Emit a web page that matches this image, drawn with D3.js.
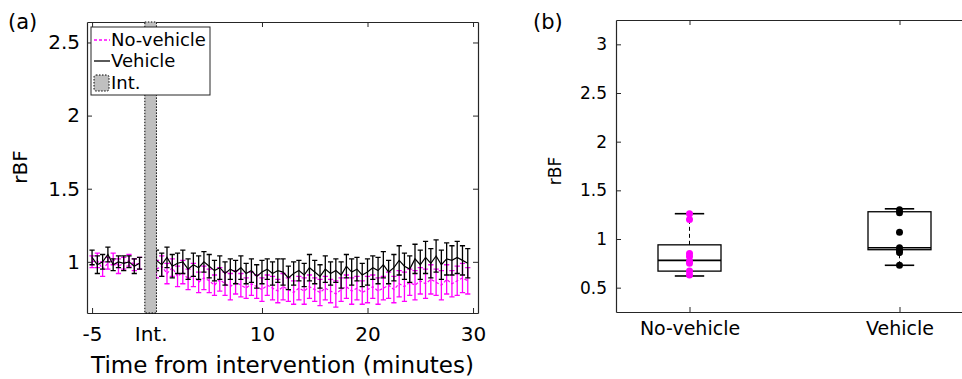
<!DOCTYPE html>
<html>
<head>
<meta charset="utf-8">
<script src="https://cdn.jsdelivr.net/npm/d3@7"></script>
<style>
  body { margin: 0; background: #fff; }
  svg { display: block; font-family: "DejaVu Sans", sans-serif; }
  .axis path, .axis line { stroke: #262626; }
  .axis text { fill: #000; font-family: "DejaVu Sans", sans-serif; }
</style>
</head>
<body>
<div id="chart"></div>
<script>
// ---- panel (a): time course ----
const intDuration = 1.1; // minutes the intervention occupies on the axis
const timePre = [-5, -4.5, -4, -3.5, -3, -2.5, -2, -1.5, -1, -0.5];
const timePost = [0, 0.5, 1, 1.5, 2, 2.5, 3, 3.5, 4, 4.5,
  5, 5.5, 6, 6.5, 7, 7.5, 8, 8.5, 9, 9.5,
  10, 10.5, 11, 11.5, 12, 12.5, 13, 13.5, 14, 14.5,
  15, 15.5, 16, 16.5, 17, 17.5, 18, 18.5, 19, 19.5,
  20, 20.5, 21, 21.5, 22, 22.5, 23, 23.5, 24, 24.5,
  25, 25.5, 26, 26.5, 27, 27.5, 28, 28.5, 29, 29.5];

const vehiclePre = [1.03, 0.98, 1.00, 1.05, 0.98, 1.00, 0.99, 1.00, 0.97, 0.99];
const vehiclePreErr = [0.05, 0.06, 0.05, 0.05, 0.04, 0.04, 0.05, 0.04, 0.05, 0.04];
const noVehiclePre = [1.00, 1.01, 0.95, 0.99, 1.02, 0.97, 0.99, 1.01, 0.98, 0.99];
const noVehiclePreErr = [0.04, 0.05, 0.05, 0.04, 0.04, 0.05, 0.04, 0.04, 0.04, 0.04];

const vehiclePost = [1.01, 0.98, 1.03, 0.97, 0.99, 1.00, 0.95, 0.98, 0.96, 1.00,
  0.97, 0.94, 0.96, 0.92, 0.95, 0.93, 0.96, 0.92, 0.94, 0.90,
  0.93, 0.95, 0.92, 0.94, 0.93, 0.89, 0.92, 0.94, 0.91, 0.96,
  0.93, 0.90, 0.95, 0.92, 0.94, 0.91, 0.97, 0.93, 0.95, 0.91,
  0.93, 0.96, 0.94, 0.98, 0.93, 0.96, 1.01, 0.97, 0.95, 1.02,
  0.98, 1.03, 0.99, 1.04, 0.98, 1.02, 1.01, 1.03, 1.01, 0.99];
const vehiclePostErr = [0.07, 0.08, 0.07, 0.08, 0.07, 0.08, 0.07, 0.08, 0.08, 0.07,
  0.08, 0.07, 0.08, 0.08, 0.07, 0.08, 0.08, 0.07, 0.08, 0.08,
  0.08, 0.07, 0.08, 0.08, 0.09, 0.08, 0.08, 0.07, 0.08, 0.09,
  0.08, 0.08, 0.09, 0.08, 0.08, 0.09, 0.08, 0.09, 0.08, 0.08,
  0.09, 0.08, 0.09, 0.09, 0.08, 0.09, 0.10, 0.09, 0.09, 0.10,
  0.10, 0.11, 0.10, 0.11, 0.10, 0.11, 0.10, 0.11, 0.10, 0.10];
const noVehiclePost = [0.95, 0.97, 0.92, 0.96, 0.90, 0.93, 0.88, 0.91, 0.86, 0.89,
  0.87, 0.84, 0.88, 0.85, 0.83, 0.86, 0.84, 0.82, 0.85, 0.83,
  0.81, 0.84, 0.82, 0.80, 0.83, 0.81, 0.79, 0.82, 0.80, 0.83,
  0.81, 0.79, 0.82, 0.80, 0.78, 0.81, 0.83, 0.80, 0.82, 0.79,
  0.81, 0.83, 0.80, 0.82, 0.84, 0.81, 0.85, 0.83, 0.86, 0.84,
  0.87, 0.85, 0.88, 0.86, 0.84, 0.88, 0.85, 0.87, 0.89, 0.87];
const noVehiclePostErr = [0.06, 0.07, 0.07, 0.06, 0.07, 0.08, 0.07, 0.08, 0.07, 0.08,
  0.08, 0.07, 0.08, 0.08, 0.09, 0.08, 0.08, 0.07, 0.08, 0.08,
  0.08, 0.07, 0.08, 0.08, 0.09, 0.08, 0.08, 0.08, 0.09, 0.08,
  0.08, 0.09, 0.08, 0.08, 0.09, 0.08, 0.08, 0.09, 0.08, 0.08,
  0.09, 0.08, 0.09, 0.08, 0.09, 0.09, 0.09, 0.10, 0.09, 0.10,
  0.09, 0.10, 0.10, 0.09, 0.10, 0.10, 0.09, 0.10, 0.10, 0.09];

const xTickValues = [-5, 0.55, 11.1, 21.1, 31.1];
const xTickLabels = ["-5", "Int.", "10", "20", "30"];
const yTicksA = [1, 1.5, 2, 2.5];

// ---- panel (b): box plot ----
const groups = ["No-vehicle", "Vehicle"];
const boxQ1 = [0.67, 0.89];
const boxMedian = [0.78, 0.91];
const boxQ3 = [0.94, 1.28];
const whiskerLow = [0.62, 0.73];
const whiskerHigh = [1.26, 1.31];
const noVehiclePoints = [1.26, 1.20, 0.85, 0.82, 0.77, 0.75, 0.67, 0.63];
const vehiclePoints = [1.30, 1.27, 1.07, 0.91, 0.88, 0.86, 0.73];
const yTicksB = [0.5, 1, 1.5, 2, 2.5, 3];

const MAGENTA = "#ff00ff";
const FONT = "DejaVu Sans, sans-serif";

const svg = d3.select("#chart").append("svg")
  .attr("width", 962)
  .attr("height", 379);

// ================= panel (a) =================
const a = { left: 87, right: 478, top: 22, bottom: 313 };
const xA = d3.scaleLinear().domain([-5.48, 31.57]).range([a.left, a.right]);
const yA = d3.scaleLinear().domain([0.65, 2.64]).range([a.bottom, a.top]);
const axisPos = t => xA(t < 0 ? t : t + intDuration);

function seriesRows(times, vals, errs) {
  return times.map((t, i) => ({ t: t, v: vals[i], e: errs[i] }));
}
const series = [
  { color: MAGENTA, dash: "3,2", segs: [seriesRows(timePre, noVehiclePre, noVehiclePreErr), seriesRows(timePost, noVehiclePost, noVehiclePostErr)] },
  { color: "#000", dash: null, segs: [seriesRows(timePre, vehiclePre, vehiclePreErr), seriesRows(timePost, vehiclePost, vehiclePostErr)] }
];

const gA = svg.append("g");

gA.append("g")
  .attr("class", "axis")
  .attr("transform", `translate(0,${a.bottom})`)
  .call(d3.axisBottom(xA).tickValues(xTickValues).tickFormat((d, i) => xTickLabels[i])
    .tickSizeInner(-5).tickSizeOuter(0).tickPadding(14))
  .attr("font-family", FONT).attr("font-size", 20);
gA.append("g")
  .attr("class", "axis")
  .attr("transform", `translate(0,${a.top})`)
  .call(d3.axisTop(xA).tickValues(xTickValues).tickFormat("").tickSizeInner(-5).tickSizeOuter(0));
gA.append("g")
  .attr("class", "axis")
  .attr("transform", `translate(${a.left},0)`)
  .call(d3.axisLeft(yA).tickValues(yTicksA).tickFormat(d3.format("~g"))
    .tickSizeInner(-5).tickSizeOuter(0).tickPadding(7))
  .attr("font-family", FONT).attr("font-size", 20);
gA.append("g")
  .attr("class", "axis")
  .attr("transform", `translate(${a.right},0)`)
  .call(d3.axisRight(yA).tickValues(yTicksA).tickFormat("").tickSizeInner(-5).tickSizeOuter(0));
gA.selectAll(".axis path").attr("stroke-width", 1.2);

const line = d3.line().x(d => axisPos(d.t)).y(d => yA(d.v));
const capW = 2.6;

series.forEach(s => {
  const g = gA.append("g");
  s.segs.forEach(rows => {
    g.append("path")
      .attr("d", line(rows))
      .attr("fill", "none")
      .attr("stroke", s.color)
      .attr("stroke-width", 1.2)
      .attr("stroke-dasharray", s.dash);
    g.selectAll(null).data(rows).enter().append("path")
      .attr("fill", "none")
      .attr("stroke", s.color)
      .attr("stroke-width", 1.3)
      .attr("d", d => {
        const x = axisPos(d.t), y0 = yA(d.v - d.e), y1 = yA(d.v + d.e);
        return `M${x},${y0}V${y1}M${x - capW},${y0}H${x + capW}M${x - capW},${y1}H${x + capW}`;
      });
  });
});

// intervention band
gA.append("rect")
  .attr("x", xA(0))
  .attr("y", a.top)
  .attr("width", xA(intDuration) - xA(0))
  .attr("height", a.bottom - a.top)
  .attr("fill", "#bfbfbf")
  .attr("stroke", "#000")
  .attr("stroke-width", 1)
  .attr("stroke-dasharray", "1.5,1.5");

// legend
const leg = gA.append("g").attr("transform", "translate(91,27)");
leg.append("rect").attr("width", 119).attr("height", 68)
  .attr("fill", "#fff").attr("stroke", "#262626").attr("stroke-width", 1);
const legItems = [
  { label: "No-vehicle", y: 13, kind: "line", color: MAGENTA, dash: "3,2" },
  { label: "Vehicle", y: 34, kind: "line", color: "#000", dash: null },
  { label: "Int.", y: 56, kind: "patch" }
];
legItems.forEach(it => {
  if (it.kind === "line") {
    leg.append("line").attr("x1", 3).attr("x2", 19).attr("y1", it.y).attr("y2", it.y)
      .attr("stroke", it.color).attr("stroke-width", 1.3).attr("stroke-dasharray", it.dash);
  } else {
    leg.append("rect").attr("x", 3).attr("y", it.y - 8).attr("width", 15).attr("height", 16)
      .attr("rx", 2).attr("fill", "#bfbfbf").attr("stroke", "#000").attr("stroke-dasharray", "1.5,1.5");
  }
  leg.append("text").attr("x", 20).attr("y", it.y).attr("dy", "0.36em")
    .style("font-size", "18px").text(it.label);
});

gA.append("text")
  .attr("x", (a.left + a.right) / 2).attr("y", 373)
  .attr("text-anchor", "middle").style("font-size", "23px")
  .text("Time from intervention (minutes)");
gA.append("text")
  .attr("transform", "translate(27,167) rotate(-90)")
  .attr("text-anchor", "middle").style("font-size", "20px")
  .text("rBF");
gA.append("text").attr("x", 8).attr("y", 29).style("font-size", "21px").text("(a)");

// ================= panel (b) =================
const b = { left: 616, right: 973, top: 20, bottom: 312 };
const xB = d3.scaleLinear().domain([0.65, 2.35]).range([b.left, b.right]);
const yB = d3.scaleLinear().domain([0.25, 3.25]).range([b.bottom, b.top]);
const gB = svg.append("g");

gB.append("g")
  .attr("class", "axis")
  .attr("transform", `translate(0,${b.bottom})`)
  .call(d3.axisBottom(xB).tickValues([1, 2]).tickFormat((d, i) => groups[i])
    .tickSizeInner(-5).tickSizeOuter(0).tickPadding(10))
  .attr("font-family", FONT).attr("font-size", 19);
gB.append("g")
  .attr("class", "axis")
  .attr("transform", `translate(0,${b.top})`)
  .call(d3.axisTop(xB).tickValues([1, 2]).tickFormat("").tickSizeInner(-5).tickSizeOuter(0));
gB.append("g")
  .attr("class", "axis")
  .attr("transform", `translate(${b.left},0)`)
  .call(d3.axisLeft(yB).tickValues(yTicksB).tickFormat(d3.format("~g"))
    .tickSizeInner(-5).tickSizeOuter(0).tickPadding(9))
  .attr("font-family", FONT).attr("font-size", 17);
gB.selectAll(".axis path").attr("stroke-width", 1.2);

const boxHalf = 0.15, capHalf = 0.07;
groups.forEach((name, i) => {
  const c = i + 1;
  const g = gB.append("g");
  // whiskers
  g.append("line").attr("x1", xB(c)).attr("x2", xB(c))
    .attr("y1", yB(boxQ3[i])).attr("y2", yB(whiskerHigh[i]))
    .attr("stroke", "#000").attr("stroke-dasharray", "4,3");
  g.append("line").attr("x1", xB(c)).attr("x2", xB(c))
    .attr("y1", yB(whiskerLow[i])).attr("y2", yB(boxQ1[i]))
    .attr("stroke", "#000").attr("stroke-dasharray", "4,3");
  [whiskerLow[i], whiskerHigh[i]].forEach(v => {
    g.append("line").attr("x1", xB(c - capHalf)).attr("x2", xB(c + capHalf))
      .attr("y1", yB(v)).attr("y2", yB(v)).attr("stroke", "#000").attr("stroke-width", 1.6);
  });
  g.append("rect")
    .attr("x", xB(c - boxHalf)).attr("y", yB(boxQ3[i]))
    .attr("width", xB(c + boxHalf) - xB(c - boxHalf))
    .attr("height", yB(boxQ1[i]) - yB(boxQ3[i]))
    .attr("fill", "none").attr("stroke", "#000").attr("stroke-width", 1.3);
  g.append("line").attr("x1", xB(c - boxHalf)).attr("x2", xB(c + boxHalf))
    .attr("y1", yB(boxMedian[i])).attr("y2", yB(boxMedian[i]))
    .attr("stroke", "#000").attr("stroke-width", 1.6);
});

gB.selectAll(".pt-nv").data(noVehiclePoints).enter().append("circle")
  .attr("cx", xB(1)).attr("cy", d => yB(d)).attr("r", 3.5).attr("fill", MAGENTA);
gB.selectAll(".pt-v").data(vehiclePoints).enter().append("circle")
  .attr("cx", xB(2)).attr("cy", d => yB(d)).attr("r", 3.5).attr("fill", "#000");

gB.append("text")
  .attr("transform", "translate(561,171) rotate(-90)")
  .attr("text-anchor", "middle").style("font-size", "17px")
  .text("rBF");
gB.append("text").attr("x", 533).attr("y", 29).style("font-size", "21px").text("(b)");
</script>
</body>
</html>
